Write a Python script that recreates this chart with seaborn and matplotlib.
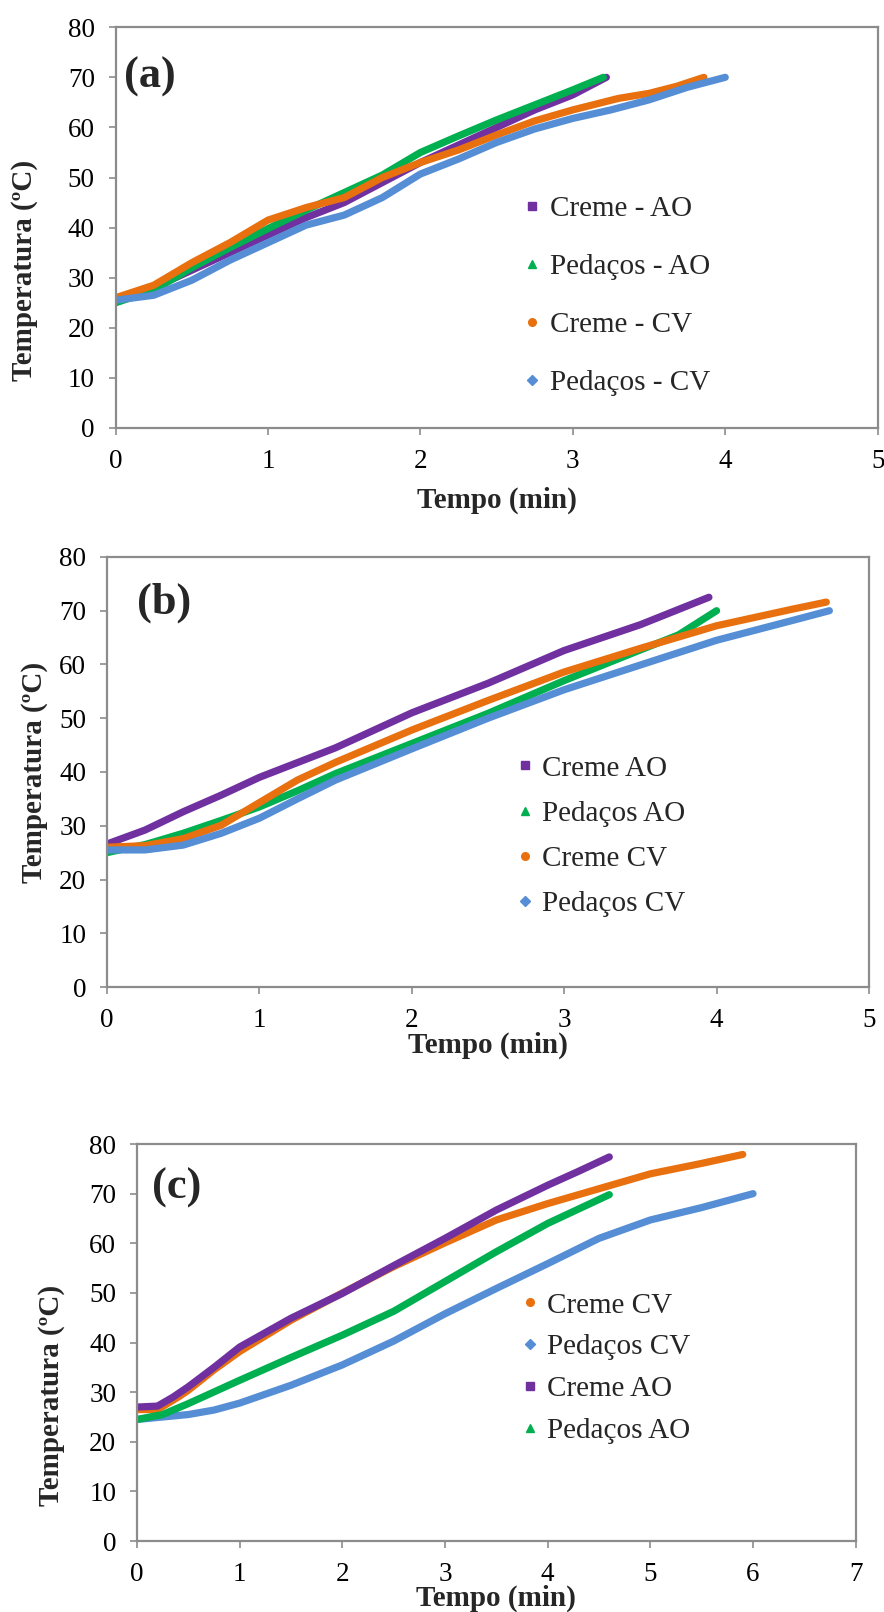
import numpy as np
import pandas as pd
import matplotlib
matplotlib.use("Agg")
import matplotlib.pyplot as plt
from matplotlib.lines import Line2D
import seaborn as sns

# Curvas de aquecimento (tempo em min, temperatura em ºC)

# Painel (a)
a_t_creme_ao = [0, 0.25, 0.5, 0.75, 1, 1.25, 1.5, 1.75, 2, 2.25, 2.5, 2.75, 3, 3.22]
a_creme_ao = [25.5, 28, 31.5, 35, 38.5, 42, 45, 49, 53, 56.5, 60, 63.5, 66.5, 70]
a_t_pedacos_ao = [0, 0.25, 0.5, 0.75, 1, 1.25, 1.5, 1.75, 2, 2.25, 2.5, 2.75, 3, 3.2]
a_pedacos_ao = [25, 27.5, 32, 36, 39.8, 43.5, 47, 50.5, 55, 58.3, 61.5, 64.5, 67.5, 70]
a_t_creme_cv = [0, 0.25, 0.5, 0.75, 1, 1.25, 1.5, 1.75, 2, 2.25, 2.5, 2.75, 3, 3.3, 3.5, 3.68, 3.86]
a_creme_cv = [26, 28.5, 33, 37, 41.5, 44, 46, 50, 53, 55.5, 58.5, 61.3, 63.5, 65.8, 66.8, 68.2, 70]
a_t_pedacos_cv = [0, 0.25, 0.5, 0.75, 1, 1.25, 1.5, 1.75, 2, 2.25, 2.5, 2.75, 3, 3.25, 3.5, 3.75, 4.0]
a_pedacos_cv = [25.5, 26.5, 29.5, 33.5, 37, 40.5, 42.5, 46, 50.7, 53.7, 57, 59.7, 61.8, 63.5, 65.5, 68, 70]

# Painel (b)
b_t_creme_ao = [0, 0.25, 0.5, 0.75, 1, 1.5, 2, 2.5, 3, 3.5, 3.95]
b_creme_ao = [26.6, 29.2, 32.6, 35.7, 39, 44.5, 51, 56.5, 62.6, 67.4, 72.5]
b_t_pedacos_ao = [0, 0.25, 0.5, 0.75, 1, 1.25, 1.5, 2, 2.5, 3, 3.5, 3.75, 4.0]
b_pedacos_ao = [25, 26.5, 28.6, 31, 33.5, 36.5, 39.7, 45.3, 50.9, 57, 62.7, 65.5, 70]
b_t_creme_cv = [0, 0.25, 0.5, 0.75, 1, 1.25, 1.5, 2, 2.5, 3, 3.5, 4, 4.5, 4.72]
b_creme_cv = [26, 26.3, 27.6, 30.1, 34.3, 38.5, 41.8, 47.8, 53.3, 58.6, 63, 67.2, 70.3, 71.6]
b_t_pedacos_cv = [0, 0.25, 0.5, 0.75, 1, 1.25, 1.5, 2, 2.5, 3, 3.5, 4, 4.5, 4.74]
b_pedacos_cv = [25.5, 25.5, 26.4, 28.6, 31.4, 35, 38.5, 44.3, 50, 55.3, 59.9, 64.5, 68.2, 70]

# Painel (c)
c_t_creme_cv = [0, 0.2, 0.4, 0.5, 0.75, 1, 1.5, 2, 2.5, 3, 3.5, 4, 4.5, 5, 5.5, 5.9]
c_creme_cv = [26.5, 26.5, 29, 30.4, 34.5, 38.2, 44.5, 50, 55.3, 60.1, 64.7, 68, 71, 74, 76.1, 77.9]
c_t_pedacos_cv = [0, 0.25, 0.5, 0.75, 1, 1.5, 2, 2.5, 3, 3.5, 4, 4.5, 5, 5.5, 6.0]
c_pedacos_cv = [24.5, 25, 25.5, 26.4, 27.8, 31.4, 35.5, 40.3, 45.8, 50.9, 55.9, 61, 64.7, 67.2, 70]
c_t_creme_ao = [0, 0.2, 0.35, 0.5, 0.75, 1, 1.5, 2, 2.5, 3, 3.5, 4, 4.3, 4.6]
c_creme_ao = [27, 27.2, 29, 31.1, 35, 39.1, 44.9, 49.9, 55.5, 61, 66.7, 71.7, 74.5, 77.4]
c_t_pedacos_ao = [0, 0.25, 0.5, 1, 1.5, 2, 2.5, 3, 3.5, 4, 4.6]
c_pedacos_ao = [24.5, 25.5, 27.7, 32.4, 37, 41.5, 46.3, 52.3, 58.3, 64, 69.8]

roxo = '#7030A0'
verde = '#00B050'
laranja = '#E8700F'
azul = '#558ED5'
cinza = '#8C8C8C'

sns.set_theme(style='white')
plt.rcParams['font.family'] = ['Liberation Serif', 'DejaVu Serif']

fig = plt.figure(figsize=(8.84, 16.12), dpi=100)


def desenhar(rect, series, xmax, letra, letra_pos, leg_pos, leg_spacing, xlab_pos, ylab_pos):
    # series na ordem da legenda (a última fica por cima, como no Excel)
    ax = fig.add_axes(rect)
    for t, temp, cor, mk, nome in series:
        df = pd.DataFrame({'t': t, 'T': temp})
        sns.lineplot(data=df, x='t', y='T', ax=ax, color=cor, linewidth=5.2,
                     solid_capstyle='round', sort=False)
    ax.set_xlim(0, xmax)
    ax.set_ylim(0, 80)
    ax.set_xticks(range(0, xmax + 1))
    ax.set_yticks(range(0, 81, 10))
    for s in ax.spines.values():
        s.set_color(cinza)
        s.set_linewidth(1.6)
    ax.tick_params(axis='both', direction='out', length=5, width=1.2, color=cinza,
                   labelsize=19.5, labelcolor='black', pad=10)
    ax.tick_params(axis='both', which='both', bottom=True, left=True)
    ax.set_xlabel('Tempo (min)', fontsize=21, fontweight='bold')
    ax.set_ylabel('Temperatura (ºC)', fontsize=21, fontweight='bold')
    ax.xaxis.set_label_coords(*xlab_pos)
    ax.yaxis.set_label_coords(*ylab_pos)
    ax.xaxis.label.set_va('center')
    ax.yaxis.label.set_va('center')
    ax.text(letra_pos[0], letra_pos[1], letra, transform=ax.transAxes, fontsize=32,
            fontweight='bold', va='center', ha='left')
    handles = [Line2D([], [], linestyle='none', marker=s[3], color=s[2], markersize=5.5)
               for s in series]
    ax.legend(handles, [s[4] for s in series], loc='upper left', bbox_to_anchor=leg_pos,
              frameon=False, fontsize=21, handlelength=0.6, handletextpad=0.3,
              labelspacing=leg_spacing, borderpad=0, borderaxespad=0)
    return ax


ax_a = desenhar(
    [0.1308, 0.7345, 0.862, 0.2486],
    [(a_t_creme_ao, a_creme_ao, roxo, 's', 'Creme - AO'),
     (a_t_pedacos_ao, a_pedacos_ao, verde, '^', 'Pedaços - AO'),
     (a_t_creme_cv, a_creme_cv, laranja, 'o', 'Creme - CV'),
     (a_t_pedacos_cv, a_pedacos_cv, azul, 'D', 'Pedaços - CV')],
    5, '(a)', (0.011, 0.876),
    (0.535, 0.58), 1.08, (0.5, -0.18), (-0.119, 0.394))

ax_b = desenhar(
    [0.121, 0.3877, 0.862, 0.2668],
    [(b_t_creme_ao, b_creme_ao, roxo, 's', 'Creme AO'),
     (b_t_pedacos_ao, b_pedacos_ao, verde, '^', 'Pedaços AO'),
     (b_t_creme_cv, b_creme_cv, laranja, 'o', 'Creme CV'),
     (b_t_pedacos_cv, b_pedacos_cv, azul, 'D', 'Pedaços CV')],
    5, '(b)', (0.04, 0.893),
    (0.537, 0.539), 0.64, (0.5, -0.136), (-0.0945, 0.498))

ax_c = desenhar(
    [0.155, 0.044, 0.813, 0.2463],
    [(c_t_creme_cv, c_creme_cv, laranja, 'o', 'Creme CV'),
     (c_t_pedacos_cv, c_pedacos_cv, azul, 'D', 'Pedaços CV'),
     (c_t_creme_ao, c_creme_ao, roxo, 's', 'Creme AO'),
     (c_t_pedacos_ao, c_pedacos_ao, verde, '^', 'Pedaços AO')],
    7, '(c)', (0.021, 0.889),
    (0.534, 0.627), 0.53, (0.499, -0.1436), (-0.1196, 0.368))

fig.savefig('out.png', dpi=100)
